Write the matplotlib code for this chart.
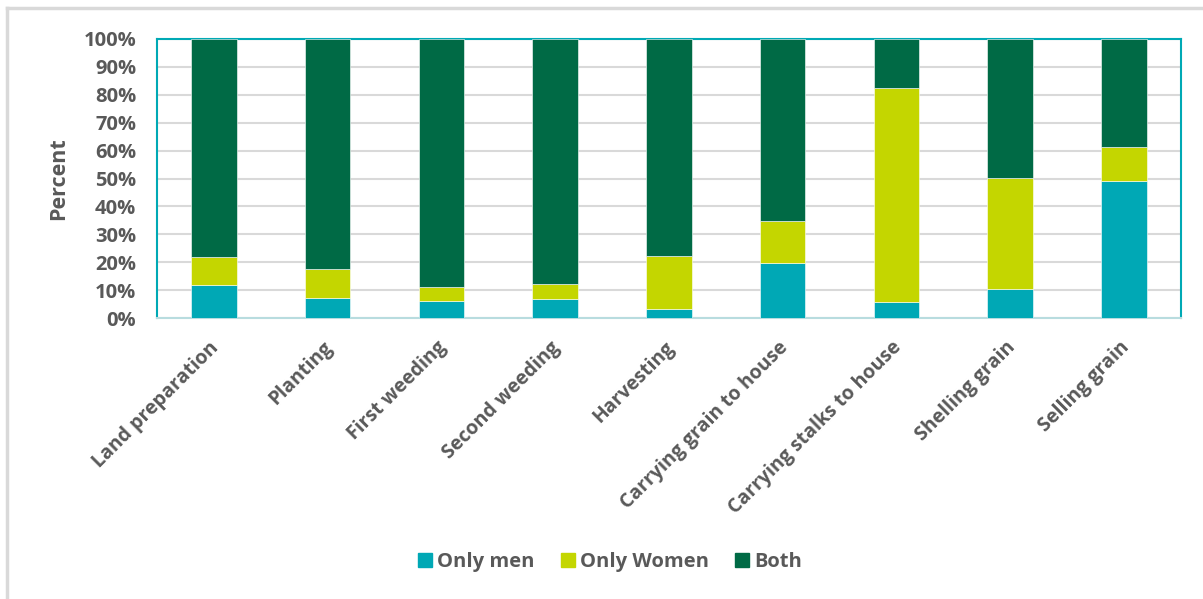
import matplotlib.pyplot as plt
import numpy as np
from matplotlib.lines import Line2D
from matplotlib.transforms import ScaledTranslation

activities = ['Land preparation', 'Planting', 'First weeding', 'Second weeding', 'Harvesting',
              'Carrying grain to house', 'Carrying stalks to house', 'Shelling grain', 'Selling grain']
only_men = [11.7, 7.3, 6.2, 6.8, 3.1, 19.7, 5.8, 10.4, 49.2]
only_women = [10.2, 10.4, 4.9, 5.3, 19.2, 15.2, 76.6, 39.9, 12.1]
both = [100 - m - w for m, w in zip(only_men, only_women)]

series_names = ['Only men', 'Only Women', 'Both']
colors = ['#00A8B5', '#C4D600', '#006A45']

plt.rcParams['font.family'] = ['Open Sans', 'DejaVu Sans']
grey = '#595959'

fig = plt.figure(figsize=(12.03, 5.99), dpi=100)
ax = fig.add_axes([0.1305, 0.469, 0.851, 0.466])

x = np.arange(len(activities))
bottom = np.zeros(len(activities))
for vals, c, name in zip([only_men, only_women, both], colors, series_names):
    ax.bar(x, vals, 0.4, bottom=bottom, color=c, label=name, edgecolor='white', linewidth=0.4, zorder=3)
    bottom += np.array(vals)

ax.set_xlim(-0.5, len(activities) - 0.5)
ax.set_ylim(0, 100)
ax.set_yticks(np.arange(0, 101, 10))
ax.set_yticklabels([f'{v}%' for v in range(0, 101, 10)], fontsize=14.5, fontweight='bold', color=grey)
ax.set_xticks(x)
ax.set_xticklabels(activities, rotation=45, ha='right', rotation_mode='anchor',
                   fontsize=14, fontweight='bold', color=grey)
ax.tick_params(length=0)
ax.tick_params(axis='y', pad=15)
ax.tick_params(axis='x', pad=14)
for lbl in ax.get_xticklabels():
    lbl.set_transform(lbl.get_transform() + ScaledTranslation(-0.05, 0, fig.dpi_scale_trans))
ax.yaxis.grid(True, color='#D9D9D9', linewidth=1.5, zorder=0)
ax.set_axisbelow(True)
for s in ['top', 'left', 'right']:
    ax.spines[s].set_color('#00A9B5')
    ax.spines[s].set_linewidth(1.5)
ax.spines['bottom'].set_color('#B8DCDF')
ax.spines['bottom'].set_linewidth(1.5)

ax.set_ylabel('Percent', fontsize=15.5, fontweight='bold', color=grey, labelpad=10)

handles = [Line2D([], [], marker='s', linestyle='', markersize=10, color=c) for c in colors]
fig.legend(handles, series_names, loc='center', bbox_to_anchor=(0.507, 0.062), ncol=3,
           frameon=False, handlelength=0.7, handletextpad=0.25, columnspacing=1.3,
           prop={'size': 14.5, 'weight': 'bold'}, labelcolor=grey)

# outer chart border (left and top edges visible)
fig.add_artist(Line2D([0.0062, 0.0062], [0.0, 0.986], transform=fig.transFigure, color='#D9D9D9', linewidth=2.5))
fig.add_artist(Line2D([0.0062, 1.0], [0.986, 0.986], transform=fig.transFigure, color='#D9D9D9', linewidth=2.5))

fig.savefig('out.png', dpi=100, facecolor='white')
